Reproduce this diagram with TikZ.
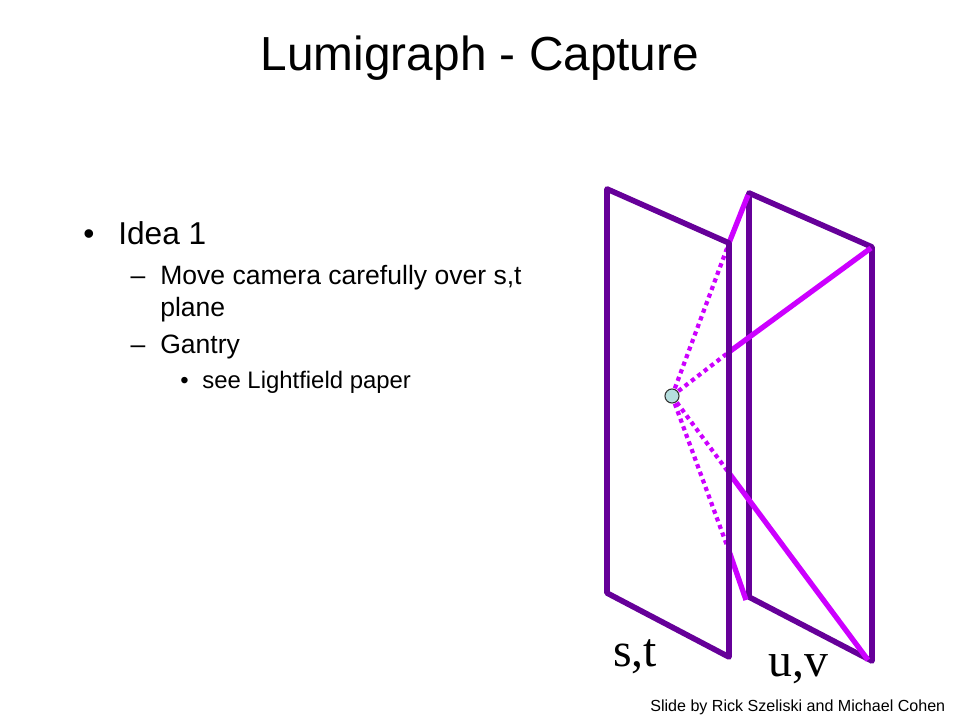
\documentclass[tikz,border=0pt]{standalone}
\usepackage{fontspec}
\setmainfont{Liberation Sans}
\newfontfamily\planefont{Liberation Serif}
\definecolor{planepurple}{HTML}{660099}
\definecolor{raypink}{HTML}{CC00FF}
\definecolor{camerafill}{HTML}{B5DEDE}

\begin{document}
\begin{tikzpicture}[x=0.02cm, y=-0.02cm, line join=round]
            \tikzset{plane/.style={draw=planepurple, line width=3.2pt},
                ray/.style={draw=raypink, line width=3pt},
                rayback/.style={draw=raypink, line width=2.4pt, dash pattern=on 2.4pt off 2.2pt},
                slidetext/.style={anchor=base west, inner sep=0pt, font=\fontsize{#1}{#1}\selectfont},
                planelabel/.style={anchor=base west, inner sep=0pt, font=\planefont\fontsize{27.2pt}{27.2pt}\selectfont}};
            \useasboundingbox (0, 0) rectangle (960, 720);
            % Text
            \node[anchor=base, inner sep=0pt, font=\fontsize{27.2pt}{27.2pt}\selectfont] (title) at (480, 70) {Lumigraph - Capture};
            \node[slidetext=18pt] (bulleta) at (83, 244) {•};
            \node[slidetext=18pt] (idea) at (118, 244) {Idea 1};
            \node[slidetext=15.1pt] (dasha) at (160, 284) {\llap{–\hspace{8.5pt}}Move camera carefully over s,t};
            \node[slidetext=15.1pt] (plane) at (160, 316) {plane};
            \node[slidetext=15.1pt] (dashb) at (160, 353) {\llap{–\hspace{8.5pt}}Gantry};
            \node[slidetext=13.6pt] (bulletb) at (180, 388) {•};
            \node[slidetext=13.6pt] (paper) at (202, 388) {see Lightfield paper};
            \node[slidetext=9.15pt] (credit) at (650, 711) {Slide by Rick Szeliski and Michael Cohen};
            % u,v plane
            \coordinate (uvtl) at (749, 193);
            \coordinate (uvtr) at (872, 247);
            \coordinate (uvbr) at (872, 661);
            \coordinate (uvbl) at (749, 597);
            \draw[plane] (uvtl) -- (uvtr) -- (uvbr) -- (uvbl) -- cycle;
            % Rays
            \coordinate (eye) at (672, 396);
            \foreach \n/\hit/\far in {a/243/{748, 195}, b/352/{871, 248}, c/473/{868, 660}, d/551/{746, 600}}{
                \coordinate (hit\n) at (729, \hit);
                \coordinate (far\n) at (\far);
                \draw[rayback] (eye) -- (hit\n);
                \draw[ray] (hit\n) -- (far\n);
            }
            \node[circle, draw=black!80, fill=camerafill, line width=0.6pt, minimum size=8pt, inner sep=0pt] (camera) at (eye) {};
            % s,t plane
            \coordinate (sttl) at (607, 189);
            \coordinate (sttr) at (729, 243);
            \coordinate (stbr) at (729, 657);
            \coordinate (stbl) at (607, 593);
            \draw[plane] (sttl) -- (sttr) -- (stbr) -- (stbl) -- cycle;
            \node[planelabel] (stlabel) at (613, 666) {s,t};
            \node[planelabel] (uvlabel) at (768, 676) {u,v};
        \end{tikzpicture}
\end{document}
